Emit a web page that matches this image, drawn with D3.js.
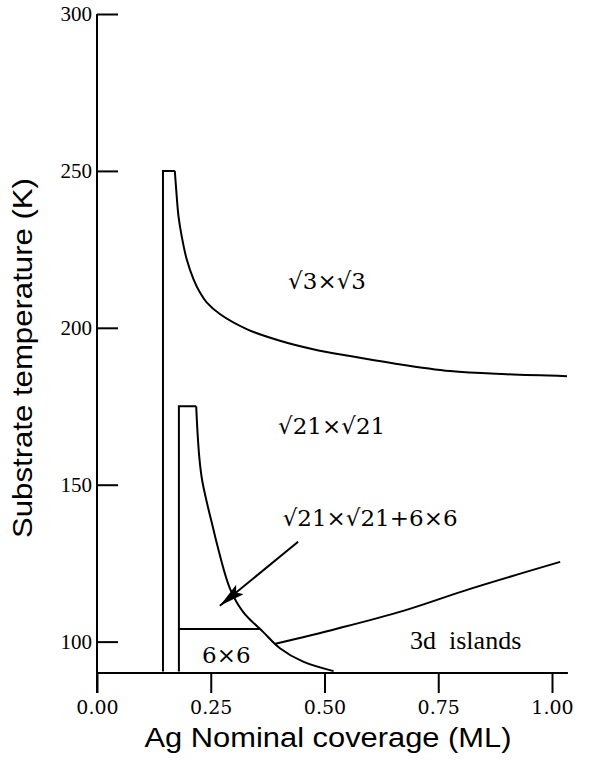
<!DOCTYPE html>
<html>
<head>
<meta charset="utf-8">
<script src="https://cdn.jsdelivr.net/npm/d3@7"></script>
<style>
    body { margin: 0; background: #fff; }
    svg { display: block; }
    .line { fill: none; stroke: #000; stroke-width: 2; }
</style>
</head>
<body>
<div id="chart"></div>
<script>
//Axis ticks
var xTicks = [0, 0.25, 0.5, 0.75, 1.0];
var yTicks = [100, 150, 200, 250, 300];

//Phase boundaries, [coverage (ML), temperature (K)]
var sqrt3Edge = [[0.145, 90.5], [0.145, 250], [0.171, 250]];
var sqrt3Curve = [[0.171, 250], [0.174, 244.2], [0.179, 235.7], [0.186, 229.3], [0.197, 221.9],
    [0.212, 215.5], [0.226, 211.3], [0.241, 208.1], [0.270, 204.4], [0.329, 199.6],
    [0.402, 195.9], [0.475, 193.2], [0.556, 191.0], [0.65, 188.7], [0.776, 186.2],
    [0.90, 185.2], [1.033, 184.6]];
var sqrt21Edge = [[0.180, 90.5], [0.180, 175], [0.218, 175]];
var sqrt21Curve = [[0.218, 175], [0.219, 172.0], [0.221, 166.5], [0.225, 158.5], [0.231, 151.5],
    [0.242, 144.0], [0.253, 137.5], [0.263, 131.5], [0.292, 117.0], [0.321, 109.5],
    [0.365, 103.1], [0.402, 97.9], [0.453, 93.6], [0.520, 90.6]];
var sixBySixTop = [[0.180, 104], [0.358, 104]];
var islandsLine = [[0.392, 99.3], [0.527, 104.1], [0.673, 109.8], [0.820, 116.8], [1.018, 125.4]];

//Arrow pointing into the mixed phase
var arrow = [[0.442, 131.8], [0.270, 111.4]];

//Region labels
var labels = [
    { text: "\u221A3\u00D7\u221A3", cov: 0.420, temp: 212.4, cls: "book" },
    { text: "\u221A21\u00D7\u221A21", cov: 0.398, temp: 166.2, cls: "book" },
    { text: "\u221A21\u00D7\u221A21+6\u00D76", cov: 0.408, temp: 136.9, cls: "book" },
    { text: "6\u00D76", cov: 0.231, temp: 93.2, cls: "book" },
    { text: "3d  islands", cov: 0.688, temp: 97.7, cls: "times" }
];

var width = 591, height = 764;

var svg = d3.select("#chart").append("svg")
    .attr("width", width)
    .attr("height", height);

//Scales
var x = d3.scaleLinear().domain([0, 1]).range([97, 552]);
var y = d3.scaleLinear().domain([90, 300]).range([673, 14]);

//Axis lines drawn by hand so they overshoot like the original
svg.append("line")
    .attr("x1", x(0)).attr("x2", x(0))
    .attr("y1", y(300)).attr("y2", y(90) + 20)
    .attr("stroke", "#000").attr("stroke-width", 2);
svg.append("line")
    .attr("x1", x(0)).attr("x2", x(1.035))
    .attr("y1", y(90)).attr("y2", y(90))
    .attr("stroke", "#000").attr("stroke-width", 2);

//Y axis, ticks point inwards
var yAxis = svg.append("g")
    .attr("transform", "translate(" + x(0) + ",0)")
    .call(d3.axisLeft(y).tickValues(yTicks).tickSizeInner(-21).tickSizeOuter(0).tickPadding(5));
yAxis.select(".domain").remove();
yAxis.selectAll("line").attr("stroke-width", 2);
yAxis.selectAll("text")
    .style("font-family", "'Liberation Serif', serif")
    .style("font-size", "21px")
    .attr("fill", "#000");

//X axis, ticks point down
var xAxis = svg.append("g")
    .attr("transform", "translate(0," + y(90) + ")")
    .call(d3.axisBottom(x).tickValues(xTicks).tickFormat(d3.format(".2f")).tickSize(20).tickPadding(8));
xAxis.select(".domain").remove();
xAxis.selectAll("line").attr("stroke-width", 2);
xAxis.selectAll("text")
    .style("font-family", "'DejaVu Serif', serif")
    .style("font-size", "19px")
    .attr("fill", "#000");

//Axis titles
svg.append("text")
    .attr("x", 328).attr("y", 747)
    .attr("text-anchor", "middle")
    .attr("textLength", 367)
    .attr("lengthAdjust", "spacingAndGlyphs")
    .style("font-family", "'Liberation Sans', Arial, sans-serif")
    .style("font-size", "27px")
    .text("Ag Nominal coverage (ML)");

svg.append("text")
    .attr("transform", "translate(32,358) rotate(-90)")
    .attr("text-anchor", "middle")
    .attr("textLength", 360)
    .attr("lengthAdjust", "spacingAndGlyphs")
    .style("font-family", "'Liberation Sans', Arial, sans-serif")
    .style("font-size", "28px")
    .text("Substrate temperature (K)");

//Line generators
var straight = d3.line().x(d => x(d[0])).y(d => y(d[1]));
var smooth = d3.line().x(d => x(d[0])).y(d => y(d[1])).curve(d3.curveCatmullRom.alpha(0.5));

[sqrt3Edge, sqrt21Edge, sixBySixTop].forEach(function(pts) {
    svg.append("path").attr("class", "line").attr("d", straight(pts));
});
[sqrt3Curve, sqrt21Curve, islandsLine].forEach(function(pts) {
    svg.append("path").attr("class", "line").attr("d", smooth(pts));
});

//Arrow with a slender filled head
svg.append("defs").append("marker")
    .attr("id", "head")
    .attr("viewBox", "0 0 26 12")
    .attr("refX", 26).attr("refY", 6)
    .attr("markerWidth", 26).attr("markerHeight", 12)
    .attr("markerUnits", "userSpaceOnUse")
    .attr("orient", "auto")
    .append("path")
    .attr("d", "M0,0 L26,6 L0,12 L5,6 Z")
    .attr("fill", "#000");

svg.append("path")
    .attr("d", straight(arrow))
    .attr("stroke", "#000")
    .attr("stroke-width", 2)
    .attr("marker-end", "url(#head)");

//Region labels
svg.selectAll(".region")
    .data(labels)
    .enter()
    .append("text")
    .attr("class", "region")
    .attr("x", d => x(d.cov))
    .attr("y", d => y(d.temp))
    .style("white-space", "pre")
    .style("font-family", d => d.cls === "times" ? "'Liberation Serif', serif" : "'DejaVu Serif', serif")
    .style("font-size", d => d.cls === "times" ? "26px" : "23px")
    .text(d => d.text);
</script>
</body>
</html>
